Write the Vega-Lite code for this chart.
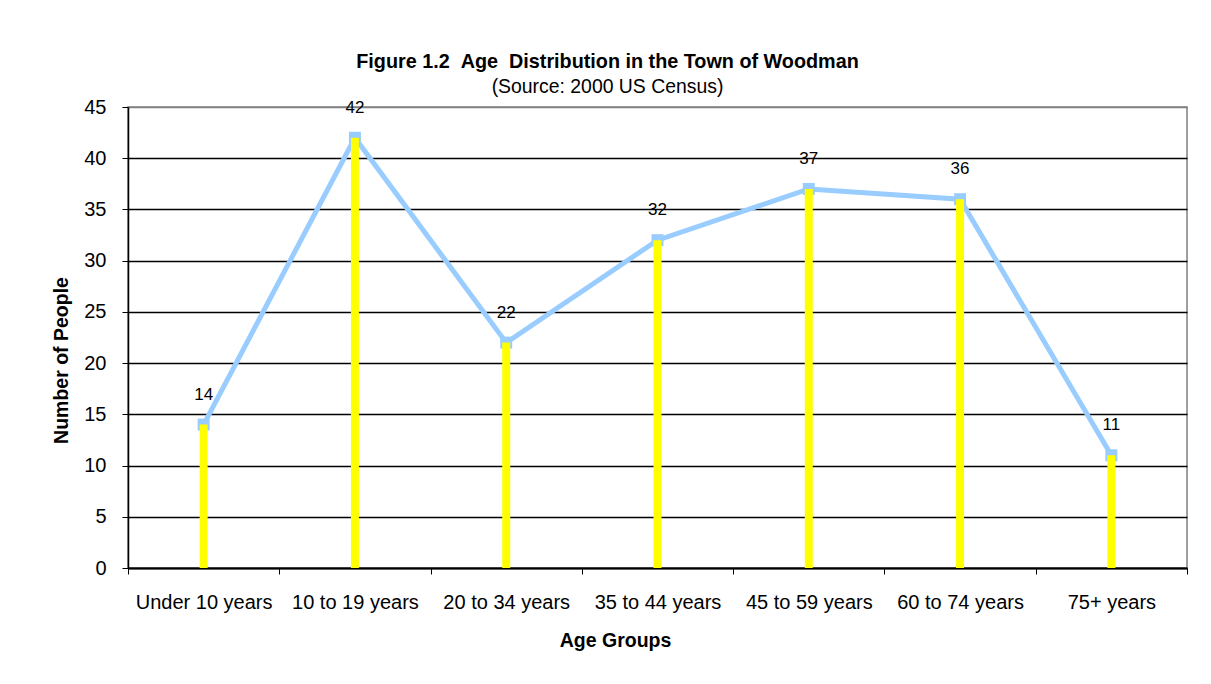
{
  "$schema": "https://vega.github.io/schema/vega-lite/v6.json",
  "width": 1059,
  "height": 461,
  "autosize": {"type": "none"},
  "padding": {"left": 128, "top": 107, "right": 24, "bottom": 116},
  "background": "white",
  "config": {
    "font": "Liberation Sans",
    "view": {"stroke": "#808080", "strokeWidth": 1.5}
  },
  "title": {
    "text": "Figure 1.2 \u00a0Age \u00a0Distribution in the Town of Woodman",
    "subtitle": "(Source: 2000 US Census)",
    "fontSize": 19.8,
    "fontWeight": "bold",
    "color": "black",
    "subtitleFontSize": 19.4,
    "subtitleColor": "black",
    "subtitlePadding": 6,
    "anchor": "middle",
    "frame": "group",
    "dx": -50,
    "offset": 1
  },
  "data": {
    "values": [
      {"age": "Under 10 years", "people": 14},
      {"age": "10 to 19 years", "people": 42},
      {"age": "20 to 34 years", "people": 22},
      {"age": "35 to 44 years", "people": 32},
      {"age": "45 to 59 years", "people": 37},
      {"age": "60 to 74 years", "people": 36},
      {"age": "75+ years", "people": 11}
    ]
  },
  "encoding": {
    "x": {
      "field": "age",
      "type": "nominal",
      "sort": null,
      "scale": {"paddingInner": 0, "paddingOuter": 0},
      "axis": {
        "title": "Age Groups",
        "titleFontSize": 19.5,
        "titleFontWeight": "bold",
        "titleColor": "black",
        "titleX": 487,
        "titleY": 72,
        "titleBaseline": "middle",
        "labelAngle": 0,
        "labelFontSize": 20,
        "labelColor": "black",
        "labelPadding": 18,
        "tickBand": "extent",
        "tickSize": 6,
        "tickColor": "black",
        "domainColor": "black",
        "domainWidth": 2,
        "grid": false
      }
    },
    "y": {
      "field": "people",
      "type": "quantitative",
      "scale": {"domain": [0, 45], "nice": false},
      "axis": {
        "title": "Number of People",
        "titleFontSize": 19.5,
        "titleFontWeight": "bold",
        "titleColor": "black",
        "titleX": -61,
        "titleY": 253,
        "titleBaseline": "alphabetic",
        "values": [0, 5, 10, 15, 20, 25, 30, 35, 40, 45],
        "labelFontSize": 20,
        "labelColor": "black",
        "labelPadding": 16,
        "tickSize": 6,
        "tickColor": "black",
        "domainColor": "black",
        "domainWidth": 1.5,
        "grid": true,
        "gridColor": {"condition": {"test": "datum.value === 45", "value": "#808080"}, "value": "black"},
        "gridWidth": 1.3,
        "gridOpacity": 1
      }
    }
  },
  "layer": [
    {"mark": {"type": "line", "color": "#99CCFF", "strokeWidth": 5}},
    {"mark": {"type": "point", "shape": "square", "filled": true, "color": "#99CCFF", "opacity": 1, "size": 144}},
    {"mark": {"type": "bar", "color": "#FFFF00", "size": 8}},
    {"mark": {"type": "text", "dy": -30, "fontSize": 17, "color": "black", "baseline": "middle"}, "encoding": {"text": {"field": "people", "type": "quantitative"}}}
  ]
}
